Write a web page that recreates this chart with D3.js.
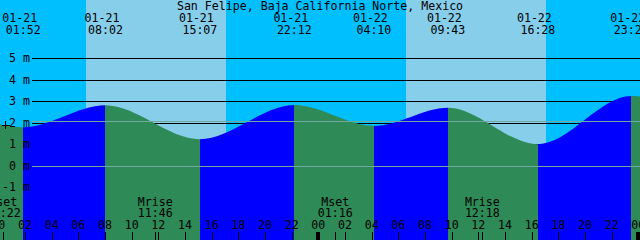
<!DOCTYPE html>
<meta charset="utf-8">
<style>
body { margin: 0; background: #fff; }
svg text { font-family: "DejaVu Sans Mono", "Liberation Mono", monospace; font-size: 11.6px; fill: #000; }
</style>
<svg width="640" height="240"></svg>
<script src="https://cdn.jsdelivr.net/npm/d3@7"></script>
<script>

var title = "San Felipe, Baja California Norte, Mexico";

// tide extremes (first and last lie outside the window, they shape the ends)
var tideTimes = ["01-20 19:45", "01-21 01:52", "01-21 08:02", "01-21 15:07", "01-21 22:12",
                 "01-22 04:10", "01-22 09:43", "01-22 16:28", "01-22 23:28", "01-23 05:40"];
var tideHeights = [2.95, 1.78, 2.80, 1.22, 2.81, 1.84, 2.69, 0.99, 3.23, 1.90];

var sunTimes = ["01-21 06:35", "01-21 17:05", "01-22 06:35", "01-22 17:05"];

var moonTimes = ["01-21 00:22", "01-21 11:46", "01-22 01:16", "01-22 12:18"];
var moonKinds = ["Mset", "Mrise", "Mset", "Mrise"];

var depthTicks = [5, 4, 3, 2, 1, 0, -1];
var mslLevel = 2.09;

var startTime = "01-21 00:07:30",
    endTime = "01-23 00:07:30";

var parse = d3.utcParse("%m-%d %H:%M"),
    parseS = d3.utcParse("%m-%d %H:%M:%S");

var svg = d3.select("svg"),
    width = +svg.attr("width"),
    height = +svg.attr("height");

var x = d3.scaleUtc()
    .domain([parseS(startTime), parseS(endTime)])
    .range([0, width]);

var y = d3.scaleLinear()
    .domain([0, 5])
    .range([165.5, 58]);

var tides = tideTimes.map(function(t, i) { return {t: parse(t), h: tideHeights[i]}; });

// sky: night / day
var night = "#00bfff", day = "#87ceeb";
var sun = sunTimes.map(parse);
var edges = [x.domain()[0]].concat(sun, [x.domain()[1]]);
for (var i = 0; i < edges.length - 1; i++) {
  svg.append("rect")
      .attr("x", x(edges[i]))
      .attr("y", 0)
      .attr("width", x(edges[i + 1]) - x(edges[i]))
      .attr("height", height)
      .attr("fill", i % 2 ? day : night)
      .attr("shape-rendering", "crispEdges");
}

// depth lines (covered by water later)
svg.append("g").selectAll("line")
    .data(depthTicks)
  .enter().append("line")
    .attr("x1", 32).attr("x2", width)
    .attr("y1", function(d) { return Math.round(y(d)) + 0.5; })
    .attr("y2", function(d) { return Math.round(y(d)) + 0.5; })
    .attr("stroke", "#000");

// water
var area = d3.area()
    .x(function(d) { return x(d.t); })
    .y0(height)
    .y1(function(d) { return y(d.h); })
    .curve(d3.curveMonotoneX);

svg.append("clipPath").attr("id", "water")
  .append("path").attr("d", area(tides));

var water = svg.append("g").attr("clip-path", "url(#water)");
for (var j = 0; j < tides.length - 1; j++) {
  water.append("rect")
      .attr("x", x(tides[j].t))
      .attr("y", 0)
      .attr("width", x(tides[j + 1].t) - x(tides[j].t))
      .attr("height", height)
      .attr("fill", tides[j + 1].h > tides[j].h ? "#0000ff" : "#2e8b57")
      .attr("shape-rendering", "crispEdges");
}

// datum and mean sea level
svg.append("g").selectAll("line")
    .data([0, mslLevel])
  .enter().append("line")
    .attr("x1", 32).attr("x2", width)
    .attr("y1", function(d) { return Math.round(y(d)) + 0.5; })
    .attr("y2", function(d) { return Math.round(y(d)) + 0.5; })
    .attr("stroke", "#70a8a0");

// depth labels
svg.append("g").selectAll("text")
    .data(depthTicks)
  .enter().append("text")
    .attr("x", 30)
    .attr("y", function(d) { return y(d) + 4; })
    .attr("text-anchor", "end")
    .text(function(d) { return d + " m"; });

// small cross mark
svg.append("path")
    .attr("d", "M2,125.5H10M5.5,121V129")
    .attr("stroke", "#000");

// title
svg.append("text")
    .attr("x", width / 2).attr("y", 9.5)
    .attr("text-anchor", "middle")
    .text(title);

// tide event labels
var shown = tides.filter(function(d) { return x(d.t) > -20 && x(d.t) < width + 20; });
var fmtDate = d3.utcFormat("%m-%d"), fmtTime = d3.utcFormat("%H:%M");
var ev = svg.append("g").selectAll("g")
    .data(shown)
  .enter().append("g");
ev.append("text")
    .attr("x", function(d) { return x(d.t) - 3.5; })
    .attr("y", 22)
    .attr("text-anchor", "middle")
    .text(function(d) { return fmtDate(d.t); });
ev.append("text")
    .attr("x", function(d) { return x(d.t); })
    .attr("y", 34)
    .attr("text-anchor", "middle")
    .text(function(d) { return fmtTime(d.t); });

// moon events
var moon = moonTimes.map(function(t, i) { return {t: parse(t), k: moonKinds[i]}; });
var mg = svg.append("g").selectAll("g")
    .data(moon)
  .enter().append("g");
mg.append("text")
    .attr("x", function(d) { return x(d.t); })
    .attr("y", 206)
    .attr("text-anchor", "middle")
    .text(function(d) { return d.k; });
mg.append("text")
    .attr("x", function(d) { return x(d.t); })
    .attr("y", 217)
    .attr("text-anchor", "middle")
    .text(function(d) { return fmtTime(d.t); });
mg.append("line")
    .attr("x1", function(d) { return Math.round(x(d.t)) + 0.5; })
    .attr("x2", function(d) { return Math.round(x(d.t)) + 0.5; })
    .attr("y1", 232).attr("y2", height)
    .attr("stroke", "#000");

// hour axis
var hours = d3.utcHour.every(2).range(parse("01-21 00:00"), parse("01-23 00:01"));
var ax = svg.append("g").selectAll("g")
    .data(hours)
  .enter().append("g");
ax.append("text")
    .attr("x", function(d) { return x(d); })
    .attr("y", 229)
    .attr("text-anchor", "middle")
    .text(d3.utcFormat("%H"));
ax.append("rect")
    .attr("x", function(d) { return d.getUTCHours() === 0 ? Math.round(x(d)) - 2 : Math.round(x(d)); })
    .attr("width", function(d) { return d.getUTCHours() === 0 ? 4 : 1; })
    .attr("y", 232)
    .attr("height", height - 232)
    .attr("fill", "#000");

</script>
